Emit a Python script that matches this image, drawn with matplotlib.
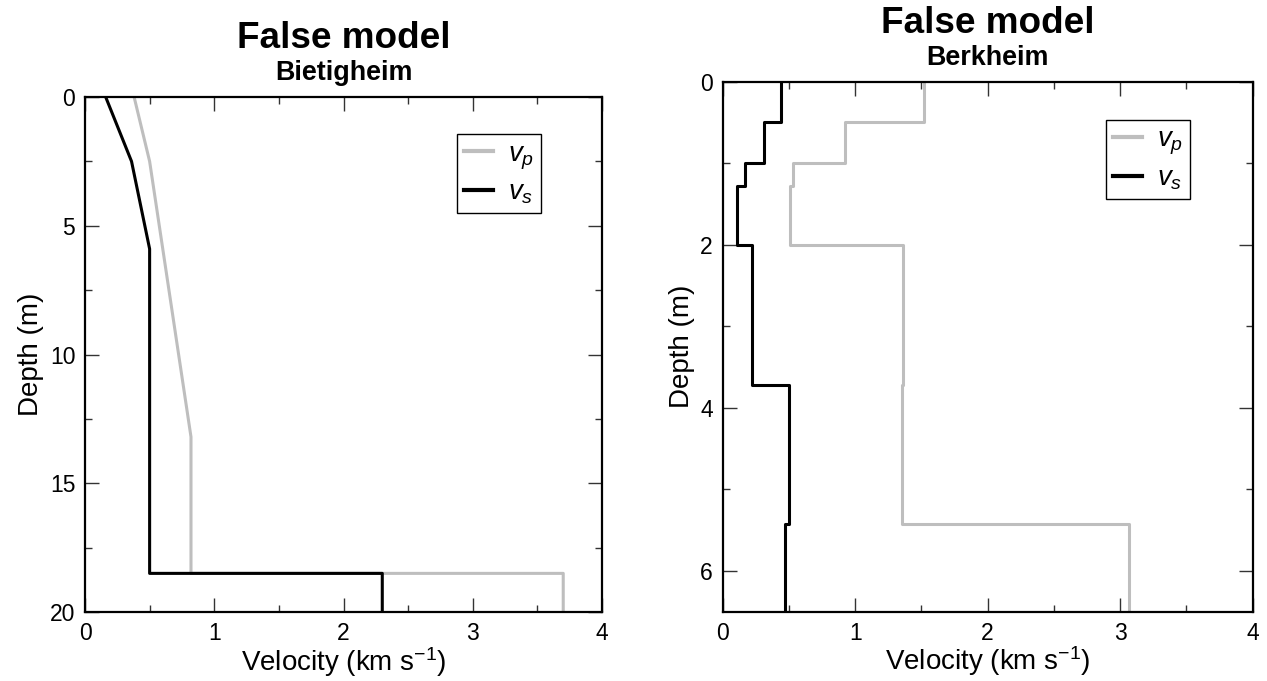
import numpy as np
import matplotlib
matplotlib.use("Agg")
import matplotlib.pyplot as plt
from matplotlib.ticker import MultipleLocator

plt.rcParams['font.family'] = ['Liberation Sans', 'DejaVu Sans']
plt.rcParams['mathtext.fontset'] = 'custom'
plt.rcParams['mathtext.rm'] = 'Liberation Sans'
plt.rcParams['mathtext.it'] = 'Liberation Sans:italic'

# ---- data: Bietigheim (left) ----
bt_vp_vel = [0.38, 0.50, 0.82, 0.82, 3.70, 3.70]
bt_vp_depth = [0.0, 2.5, 13.2, 18.5, 18.5, 20.0]
bt_vs_vel = [0.16, 0.36, 0.50, 0.50, 2.30, 2.30]
bt_vs_depth = [0.0, 2.5, 5.9, 18.5, 18.5, 20.0]

# ---- data: Berkheim (right), layered model ----
bk_bounds = [0.0, 0.5, 1.0, 1.28, 2.0, 3.72, 5.42, 6.5]
bk_vp = [1.52, 0.92, 0.53, 0.51, 1.36, 1.35, 3.07]
bk_vs = [0.44, 0.31, 0.17, 0.11, 0.22, 0.50, 0.47]

titles = ["False model", "False model"]
subtitles = ["Bietigheim", "Berkheim"]

VP_COLOR = '#bebebe'
VS_COLOR = '#000000'

W, H = 1267, 681
fig = plt.figure(figsize=(W / 100, H / 100), dpi=100)


def step_xy(bounds, vals):
    d = np.repeat(bounds, 2)[1:-1]
    v = np.repeat(vals, 2)
    return v, d


def style_axes(ax, ymax, ymaj, ymin):
    ax.set_xlim(0, 4)
    ax.set_ylim(ymax, 0)
    ax.xaxis.set_major_locator(MultipleLocator(1))
    ax.xaxis.set_minor_locator(MultipleLocator(0.5))
    ax.yaxis.set_major_locator(MultipleLocator(ymaj))
    ax.yaxis.set_minor_locator(MultipleLocator(ymin))
    ax.tick_params(which='both', direction='in', top=True, right=True,
                   width=1.0, color='#333333', labelsize=16.5, pad=7)
    ax.tick_params(which='major', length=10)
    ax.tick_params(which='minor', length=5)
    for s in ax.spines.values():
        s.set_linewidth(1.6)
    ax.set_xlabel('Velocity (km s$^{-1}$)', fontsize=20, labelpad=0)
    ax.set_ylabel('Depth (m)', fontsize=20, labelpad=4)
    leg = ax.legend(loc='upper right', bbox_to_anchor=(0.882, 0.928), fontsize=20,
                    frameon=True, fancybox=False, edgecolor='black', framealpha=1,
                    handlelength=1.05, handletextpad=0.55, labelspacing=0.3,
                    borderpad=0.25, borderaxespad=0)
    leg.get_frame().set_linewidth(1.0)
    for h in leg.get_lines():
        h.set_linewidth(3.0)


# left axes: x 85->602, y 97->612
axL = fig.add_axes([85 / W, 1 - 612 / H, 517 / W, 515 / H])
axL.plot(bt_vp_vel, bt_vp_depth, color=VP_COLOR, lw=2.2, label='$v_p$', zorder=2)
axL.plot(bt_vs_vel, bt_vs_depth, color=VS_COLOR, lw=2.2, label='$v_s$', zorder=3)
style_axes(axL, 20, 5, 2.5)

# right axes: x 722.7->1252.5, y 81.7->611.8
axR = fig.add_axes([722.7 / W, 1 - 611.8 / H, 529.8 / W, 530.1 / H])
x, y = step_xy(bk_bounds, bk_vp)
axR.plot(x, y, color=VP_COLOR, lw=2.2, label='$v_p$', zorder=2)
x, y = step_xy(bk_bounds, bk_vs)
axR.plot(x, y, color=VS_COLOR, lw=2.2, label='$v_s$', zorder=3)
style_axes(axR, 6.5, 2, 1)

for ax, t, st, top in [(axL, titles[0], subtitles[0], 97),
                       (axR, titles[1], subtitles[1], 81.7)]:
    bb = ax.get_position()
    cx = (bb.x0 + bb.x1) / 2
    fig.text(cx, 1 - (top - 49.0) / H, t, ha='center', va='baseline',
             fontsize=26.6, fontweight='bold')
    fig.text(cx, 1 - (top - 17.0) / H, st, ha='center', va='baseline',
             fontsize=19.4, fontweight='bold')

fig.savefig('out.png', dpi=100)
